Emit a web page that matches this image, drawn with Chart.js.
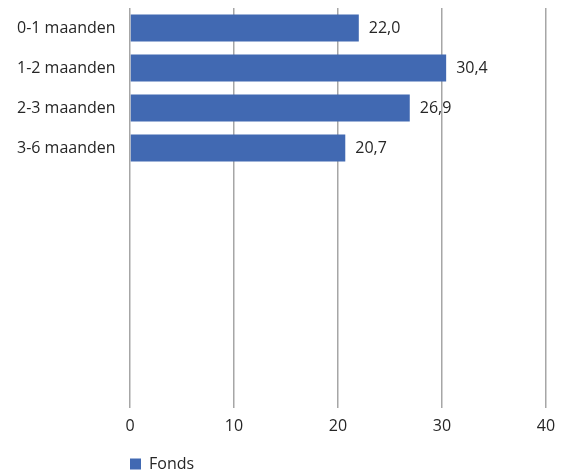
<!DOCTYPE html>
<html>
<head>
<meta charset="utf-8">
<script src="https://cdn.jsdelivr.net/npm/chart.js@4/dist/chart.umd.min.js"></script>
<style>
  html, body { margin: 0; padding: 0; background: #fff; }
</style>
</head>
<body>
<canvas id="myChart" width="572" height="475"></canvas>
<script>
// categories; the empty slots keep the open space under the bars
let categories = ["0-1 maanden", "1-2 maanden", "2-3 maanden", "3-6 maanden", "", "", "", "", "", ""];
let fonds = [22.0, 30.4, 26.9, 20.7, null, null, null, null, null, null];
let xTicks = [0, 10, 20, 30, 40];

const FONT = "'Open Sans', 'Noto Sans', sans-serif";
const TXT = "#262626";

// values next to the bar ends, written with a comma
const valueLabels = {
    id: "valueLabels",
    afterDatasetsDraw(chart) {
        const ctx = chart.ctx;
        const meta = chart.getDatasetMeta(0);
        ctx.save();
        ctx.font = "16px " + FONT;
        ctx.fillStyle = TXT;
        ctx.textAlign = "left";
        ctx.textBaseline = "middle";
        meta.data.forEach(function (bar, i) {
            let v = chart.data.datasets[0].data[i];
            if (v === null) return;
            ctx.fillText(v.toFixed(1).replace(".", ","), bar.x + 10, bar.y);
        });
        ctx.restore();
    }
};

new Chart("myChart", {
    type: "bar",
    data: {
        labels: categories,
        datasets: [{
            label: "Fonds",
            data: fonds,
            backgroundColor: "#4169b2",
            borderWidth: 0,
            barPercentage: 0.68,
            categoryPercentage: 1.0
        }]
    },
    options: {
        indexAxis: "y",
        responsive: false,
        animation: false,
        layout: { padding: { top: 8, right: 26, left: 17, bottom: -7 } },
        scales: {
            x: {
                min: 0,
                max: 40,
                afterBuildTicks(axis) { axis.ticks = xTicks.map(v => ({ value: v })); },
                afterFit(axis) { axis.height = 48; },
                grid: { color: "#a6a6a6", lineWidth: 1.5, drawTicks: false },
                border: { display: false },
                ticks: { color: TXT, font: { family: FONT, size: 16 }, padding: 9 }
            },
            y: {
                afterFit(axis) { axis.width = 113; },
                grid: { display: false, drawTicks: false },
                border: { display: false },
                ticks: {
                    color: TXT,
                    font: { family: FONT, size: 16, lineHeight: 1 },
                    padding: 0,
                    crossAlign: "far",
                    autoSkip: false
                }
            }
        },
        plugins: {
            legend: {
                position: "bottom",
                align: "start",
                fullSize: false,
                labels: {
                    color: TXT,
                    font: { family: FONT, size: 16 },
                    boxWidth: 11,
                    boxHeight: 11,
                    padding: 0
                }
            },
            tooltip: { enabled: false }
        }
    },
    plugins: [valueLabels]
});
</script>
</body>
</html>
